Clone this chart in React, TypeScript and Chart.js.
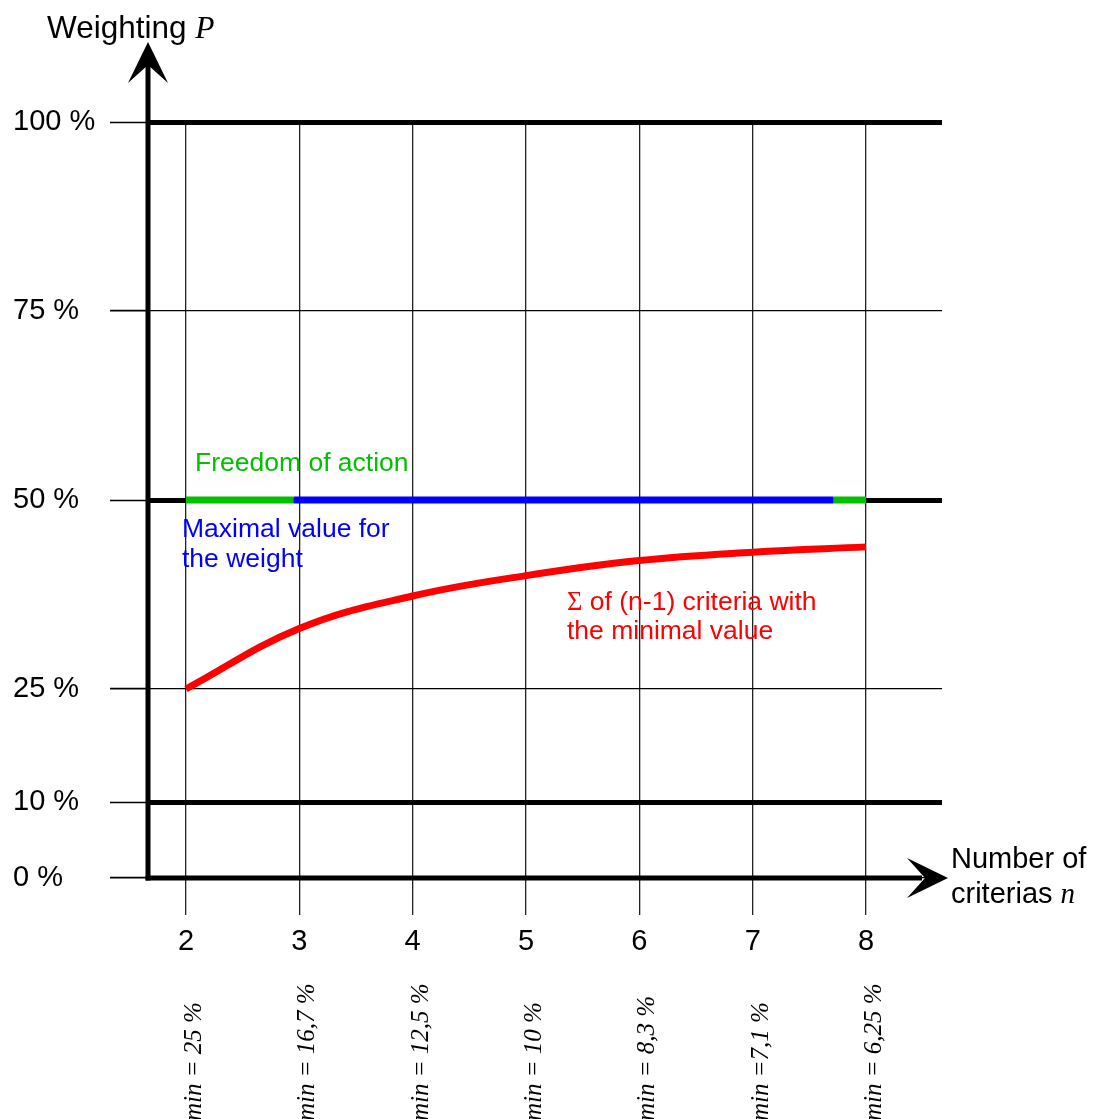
import React, { useEffect, useRef } from "react";
import { Chart, registerables } from "chart.js";

Chart.register(...registerables);

// ---- data ----
const criteriaCounts = [2, 3, 4, 5, 6, 7, 8];
const sumOfMinimalCriteria = [25, 33, 37.3, 40, 42, 43.1, 43.8];
const minimalWeightLabels = ["= 25 %", "= 16,7 %", "= 12,5 %", "= 10 %", "= 8,3 %", "=7,1 %", "= 6,25 %"];
const yTickValues = [0, 10, 25, 50, 75, 100];
const emphasizedYTicks = [100, 50, 10];
const maximalWeightLevel = 50;
const freedomStartN = [2, 2.95];
const maximalWeightN = [2.95, 7.71];
const freedomEndN = [7.71, 8];

const SANS = "'Liberation Sans', Arial, sans-serif";
const SERIF = "'Liberation Serif', 'Times New Roman', serif";
const GREEN = "#00c000";
const BLUE = "#0000ff";
const RED = "#ff0000";

const overlay = {
  id: "overlay",
  afterDraw(chart: any) {
    const { ctx, chartArea, scales } = chart;
    const xs = scales.x;
    const ys = scales.y;
    const x0 = chartArea.left;
    const y0 = ys.getPixelForValue(0);
    const top = chartArea.top;
    const right = chartArea.right;
    ctx.save();
    ctx.fillStyle = "#000";
    ctx.strokeStyle = "#000";
    ctx.lineCap = "butt";
    ctx.lineWidth = 5;
    // y axis
    ctx.beginPath();
    ctx.moveTo(x0, y0 + 2.5);
    ctx.lineTo(x0, top - 60);
    ctx.stroke();
    // x axis
    ctx.beginPath();
    ctx.moveTo(x0 - 2.5, y0);
    ctx.lineTo(right - 20, y0);
    ctx.stroke();
    // y arrow head
    ctx.beginPath();
    ctx.moveTo(x0, top - 80);
    ctx.lineTo(x0 + 20, top - 39);
    ctx.lineTo(x0, top - 57);
    ctx.lineTo(x0 - 20, top - 39);
    ctx.closePath();
    ctx.fill();
    // x arrow head
    ctx.beginPath();
    ctx.moveTo(right + 6, y0);
    ctx.lineTo(right - 35, y0 - 20);
    ctx.lineTo(right - 17, y0);
    ctx.lineTo(right - 35, y0 + 20);
    ctx.closePath();
    ctx.fill();

    // axis titles
    ctx.textBaseline = "alphabetic";
    ctx.textAlign = "left";
    ctx.font = `31.5px ${SANS}`;
    const t1 = "Weighting ";
    ctx.fillText(t1, 47, 38);
    const w1 = ctx.measureText(t1).width;
    ctx.font = `italic 31.5px ${SERIF}`;
    ctx.fillText("P", 47 + w1, 38);

    ctx.font = `29px ${SANS}`;
    ctx.fillText("Number of", 951, 868);
    const t2 = "criterias ";
    ctx.fillText(t2, 951, 903);
    const w2 = ctx.measureText(t2).width;
    ctx.font = `italic 29px ${SERIF}`;
    ctx.fillText("n", 951 + w2, 903);

    // annotations
    ctx.font = `26.5px ${SANS}`;
    ctx.fillStyle = GREEN;
    ctx.fillText("Freedom of action", 195, 471);
    ctx.fillStyle = BLUE;
    ctx.fillText("Maximal value for", 182, 537);
    ctx.fillText("the weight", 182, 567);
    ctx.fillStyle = RED;
    ctx.font = `26.5px ${SERIF}`;
    ctx.fillText("\u03A3", 567, 610);
    const ws = ctx.measureText("\u03A3").width;
    ctx.font = `26.5px ${SANS}`;
    ctx.fillText(" of (n-1) criteria with", 567 + ws, 610);
    ctx.fillText("the minimal value", 567, 639);

    // rotated minimal-weight labels
    ctx.fillStyle = "#000";
    ctx.font = `italic 25px ${SERIF}`;
    const wP = ctx.measureText("P").width;
    criteriaCounts.forEach((n, i) => {
      const px = xs.getPixelForValue(n) + 15;
      ctx.save();
      ctx.translate(px, 1121 + wP);
      ctx.rotate(-Math.PI / 2);
      ctx.textAlign = "left";
      ctx.fillText("P", 0, 0);
      ctx.fillText("min " + minimalWeightLabels[i], wP, 0);
      ctx.restore();
    });
    ctx.restore();
  },
};

export default function App() {
  const ref = useRef<HTMLCanvasElement>(null);
  useEffect(() => {
    const canvas = ref.current!;
    const line = (ns: number[], color: string, label: string) => ({
      label,
      data: ns.map((n) => ({ x: n, y: maximalWeightLevel })),
      borderColor: color,
      borderWidth: 7,
      pointRadius: 0,
      borderCapStyle: "butt",
    });
    const chart = new Chart(canvas, {
      type: "line",
      data: {
        datasets: [
          {
            label: "Σ of (n-1) criteria with the minimal value",
            data: criteriaCounts.map((n, i) => ({ x: n, y: sumOfMinimalCriteria[i] })),
            borderColor: RED,
            borderWidth: 7,
            pointRadius: 0,
            tension: 0.4,
            borderCapStyle: "butt",
          },
          line(freedomStartN, GREEN, "Freedom of action"),
          line(maximalWeightN, BLUE, "Maximal value for the weight"),
          line(freedomEndN, GREEN, "Freedom of action"),
        ] as any,
      },
      options: {
        responsive: false,
        animation: false,
        devicePixelRatio: 1,
        layout: { padding: { left: 13, top: 122, right: 151, bottom: 0 } },
        plugins: { legend: { display: false }, tooltip: { enabled: false } },
        scales: {
          x: {
            type: "linear",
            min: 1.665,
            max: 8.67,
            afterBuildTicks: (s: any) => {
              s.ticks = criteriaCounts.map((v) => ({ value: v }));
            },
            afterFit: (s: any) => {
              s.height = 241;
            },
            border: { display: false },
            grid: {
              color: "#222",
              lineWidth: 1.3,
              tickLength: 37,
              tickWidth: 1.3,
              tickColor: "#222",
            },
            ticks: {
              color: "#000",
              font: { family: SANS, size: 29 },
              padding: 10,
              maxRotation: 0,
              autoSkip: false,
              callback: (v: any) => String(v),
            },
          },
          y: {
            type: "linear",
            min: 0,
            max: 100,
            afterBuildTicks: (s: any) => {
              s.ticks = yTickValues.map((v) => ({ value: v }));
            },
            afterFit: (s: any) => {
              s.width = 135;
            },
            border: { display: false },
            grid: {
              color: "#000",
              lineWidth: (c: any) => (emphasizedYTicks.includes(c.tick?.value) ? 5 : 1.3),
              tickLength: 38,
              tickWidth: 1.6,
              tickColor: "#000",
            },
            ticks: {
              color: "#000",
              font: { family: SANS, size: 29 },
              crossAlign: "far",
              autoSkip: false,
              callback: (v: any) => `${v} %`,
            },
          },
        },
      } as any,
      plugins: [overlay],
    });
    return () => chart.destroy();
  }, []);
  return (
    <canvas
      ref={ref}
      width={1093}
      height={1119}
      style={{ position: "fixed", left: 0, top: 0, width: 1093, height: 1119 }}
    />
  );
}
